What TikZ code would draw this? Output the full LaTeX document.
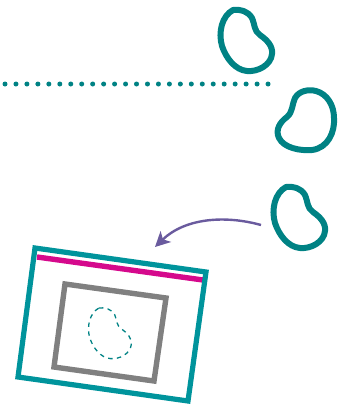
\documentclass[tikz,border=0pt]{standalone}
\usetikzlibrary{arrows.meta}
\definecolor{beanteal}{HTML}{008284}
\definecolor{frameteal}{HTML}{00949C}
\definecolor{stripmag}{HTML}{D5098C}
\definecolor{boxgray}{HTML}{808080}
\definecolor{arrowpurple}{HTML}{6A5B9E}
\newcommand{\beanshape}{
    (233,10) .. controls (240,9) and (248,11) .. (252,18)
    .. controls (255,25) and (254,31) .. (260,35)
    .. controls (267,40) and (273,46) .. (272,54)
    .. controls (271,65) and (258,72) .. (247,71)
    .. controls (235,70) and (226,58) .. (222,46)
    .. controls (218,32) and (222,16) .. (233,10) -- cycle}
\tikzset{
    x=1pt,y=-1pt,
    bean/.style={draw=beanteal,line width=6pt,line join=round},
    minibean/.style={draw=beanteal,line width=1.3pt,dash pattern=on 4.4pt off 4.4pt},
    tray/.style={draw=frameteal,line width=5.2pt,line join=miter},
    strip/.style={draw=stripmag,line width=5.4pt},
    window/.style={draw=boxgray,line width=5.4pt,line join=miter},
    dotrow/.style={draw=beanteal,line width=5pt,line cap=round,dash pattern=on 0pt off 10.96pt},
    movearrow/.style={draw=arrowpurple,line width=2.4pt,-{Stealth[length=15pt,width=15pt,inset=4pt]}},
}
\begin{document}
\begin{tikzpicture}
    \useasboundingbox (0,0) rectangle (348,405);

    % beans
    \draw[bean] \beanshape;
    \draw[bean] (295,98) .. controls (299,91) and (308,89) .. (316,91)
        .. controls (327,94) and (334,105) .. (334,118)
        .. controls (335,132) and (328,148) .. (312,150)
        .. controls (300,151) and (284,148) .. (279,138)
        .. controls (275,130) and (280,122) .. (287,117)
        .. controls (293,112) and (292,104) .. (295,98) -- cycle;
    \draw[bean,shift={(53,177)}] \beanshape;

    \draw[dotrow] (5,84) -- (272,84);

    % tray
    \draw[strip] (37,257) -- (203,280);
    \draw[tray] (35,248) -- (206,272) -- (188,401) -- (18,377) -- cycle;
    \draw[window] (65,284) -- (166,298) -- (154,381) -- (54,367) -- cycle;
    \draw[minibean,shift={(-94.5,299.7)},scale=0.83] \beanshape;

    % arrow
    \coordinate (from) at (261,225);
    \coordinate (to) at (155,247);
    \draw[movearrow] (from) .. controls (225,215) and (185,218) .. (to);
\end{tikzpicture}
\end{document}
